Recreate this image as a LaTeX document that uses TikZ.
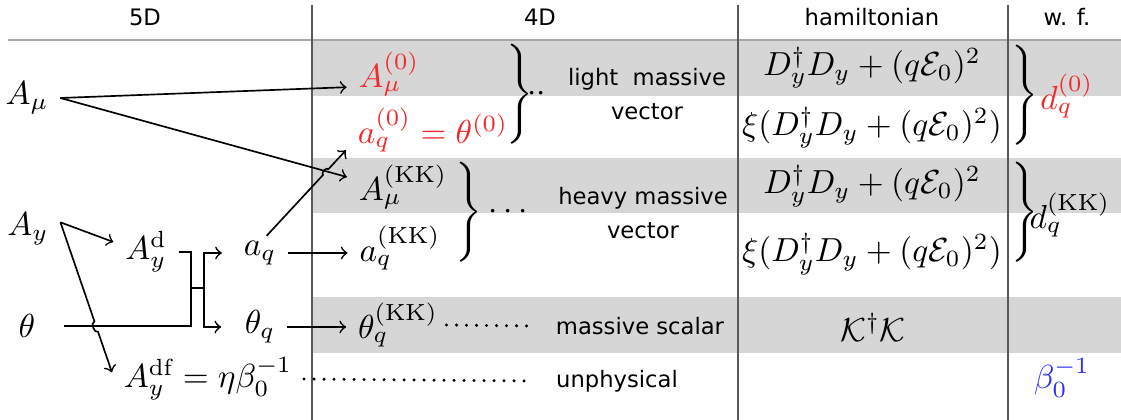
\documentclass[tikz,border=0pt]{standalone}
\usepackage{fontspec}
\newfontfamily\sanslbl{DejaVu Sans}
\usetikzlibrary{calc}
\definecolor{zeromode}{RGB}{245,40,40}
\definecolor{gaugeblue}{RGB}{45,45,250}
\definecolor{bandgray}{RGB}{214,214,214}
\newcommand{\tallbrace}{$\left.\vrule height12pt depth12pt width0pt\right\}$}
\begin{document}
\begin{tikzpicture}[x=0.3pt,y=-0.3pt,line width=0.5pt,>=to,
	txt/.style={font=\sanslbl\fontsize{6.8}{10}\selectfont,align=center},
	band/.style={fill=bandgray},
	colsep/.style={black!65,line width=0.45pt},
	leader/.style={line width=1pt,line cap=round,dash pattern=on 0pt off 3pt}]
	\useasboundingbox (0,0) rectangle (1121,420);
	% grey rows and table rules
	\fill[band] (313,41) rectangle (1121,96);
	\fill[band] (313,158) rectangle (1121,213);
	\fill[band] (313,297) rectangle (1121,353);
	\draw[black!35,line width=0.6pt] (8,40) -- (1121,40);
	\foreach \x in {312,738,1008} \draw[colsep] (\x,5) -- (\x,420);
	% headers
	\node[txt] (h5d) at (145,17) {5D};
	\node[txt] (h4d) at (540,17) {4D};
	\node[txt] (hham) at (872,17) {hamiltonian};
	\node[txt] (hwf) at (1067,17) {w. f.};
	% 5D fields
	\node (Amu) at (27,98) {$A_\mu$};
	\node (Ay) at (28,229) {$A_y$};
	\node (th) at (27,326) {$\theta$};
	\node (Ayd) at (146,252) {$A_y^{\mathrm{d}}$};
	\node (aq) at (260,253) {$a_q$};
	\node (thq) at (260,327) {$\theta_q$};
	\node (Aydf) at (208,379) {$A_y^{\mathrm{df}}=\eta\beta_0^{-1}$};
	% 4D modes
	\node[text=zeromode] (A0mu) at (389,74) {$A_\mu^{(0)}$};
	\node[text=zeromode] (aq0) at (433,130) {$a_q^{(0)}=\theta^{(0)}$};
	\node (AKKmu) at (403,187) {$A_\mu^{(\mathrm{KK})}$};
	\node (aqKK) at (400,248) {$a_q^{(\mathrm{KK})}$};
	\node (thqKK) at (398,325) {$\theta_q^{(\mathrm{KK})}$};
	\node (br1) at (518,94) {\tallbrace};
	\node (dd1) at (537,94) {$\cdot\cdot$};
	\node (br2) at (467,212) {\tallbrace};
	\node (dd2) at (508,212) {$\cdots$};
	\node[txt] (light) at (647,94) {light\ \ massive\\vector};
	\node[txt] (heavy) at (643,213) {heavy massive\\vector};
	\node[txt] (scal) at (640,326) {massive scalar};
	\node[txt] (unph) at (617,381) {unphysical};
	% hamiltonian
	\node (H1) at (872,68) {$D_y^\dagger D_y+(q\mathcal{E}_0)^2$};
	\node (H2) at (872,128) {$\xi(D_y^\dagger D_y+(q\mathcal{E}_0)^2)$};
	\node (H3) at (872,186) {$D_y^\dagger D_y+(q\mathcal{E}_0)^2$};
	\node (H4) at (872,254) {$\xi(D_y^\dagger D_y+(q\mathcal{E}_0)^2)$};
	\node (H5) at (873,327) {$\mathcal{K}^\dagger\mathcal{K}$};
	% wave functions
	\node (br3) at (1023,95) {\tallbrace};
	\node[text=zeromode] (d0) at (1067,96) {$d_q^{(0)}$};
	\node (br4) at (1023,212) {\tallbrace};
	\node (dKK) at (1070,215) {$d_q^{(\mathrm{KK})}$};
	\node[text=gaugeblue] (beta) at (1062,378) {$\beta_0^{-1}$};
	% arrows from A_mu
	\draw[->] (Amu.east) -- (A0mu.base west);
	\draw[->] (Amu.east) -- ([yshift=3pt]AKKmu.west);
	% a_q up to the zero mode, with a hop
	\coordinate (aqs) at ([xshift=2pt,yshift=-2pt]aq.north);
	\coordinate (aqe) at ([yshift=4pt]aq0.south west);
	\draw[->] (aqs) -- ($(aqs)!0.71!(aqe)$) to[bend left=90] ($(aqs)!0.78!(aqe)$) -- (aqe);
	% A_y splits
	\coordinate (ays) at ([yshift=2pt]Ay.east);
	\coordinate (aye) at ([yshift=2pt]Aydf.west);
	\draw[->] (ays) -- ([yshift=3pt]Ayd.west);
	\draw[->] (ays) -- ($(ays)!0.66!(aye)$) to[bend right=90] ($(ays)!0.73!(aye)$) -- (aye);
	% mixing of A_y^d and theta
	\coordinate (jA) at (191,288);
	\coordinate (jB) at (204,288);
	\draw (Ayd.east) -| (jA) |- ([xshift=5pt]th.east);
	\draw (jA) -- (jB);
	\draw[->] (jB) |- ([xshift=-3pt]aq.west);
	\draw[->] (jB) |- ([xshift=-3.5pt]thq.west);
	\draw[->] (aq.east) -- (aq.east -| aqKK.west);
	\draw[->] (thq.east) -- (thq.east -| thqKK.west);
	% leader dots
	\draw[leader] ([xshift=-1pt]thqKK.east) -- ([xshift=-4pt]scal.west);
	\draw[leader] (Aydf.east) -- ([xshift=-4pt]unph.west);
\end{tikzpicture}
\end{document}
